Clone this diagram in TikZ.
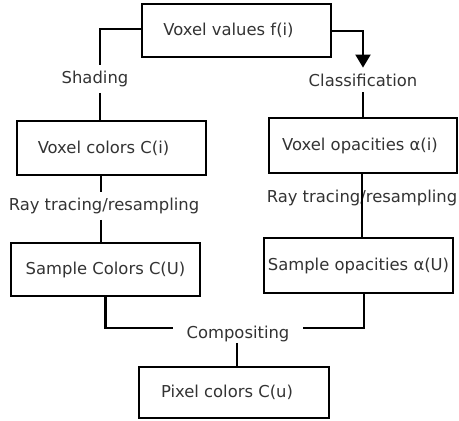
\documentclass[tikz,border=0pt]{standalone}
\usepackage{fontspec}
\setmainfont{DejaVu Sans}
\usetikzlibrary{arrows.meta}

\begin{document}
\begin{tikzpicture}[x=1pt,y=-1pt,line width=2.1pt,
  font=\fontsize{16.4}{19}\selectfont,
  box/.style={draw,text=black!80,inner sep=0pt,minimum width=189pt,minimum height=53pt},
  lbl/.style={text=black!80,inner sep=5pt}]
\useasboundingbox (0,0) rectangle (459,421);
% the six boxes
\node[box] (vval) at (236.5,30.5) {Voxel values f(i)\hspace*{16pt}};
\node[box,minimum height=54pt] (vcol) at (111.5,148) {Voxel colors C(i)\hspace*{16pt}};
\node[box,minimum width=188pt,minimum height=55pt] (vopa) at (363,145.5) {Voxel opacities α(i)\hspace*{6pt}};
\node[box] (scol) at (105.5,269.5) {Sample Colors C(U)};
\node[box,minimum height=55pt] (sopa) at (358.5,265.5) {Sample opacities α(U)};
\node[box,minimum width=190pt,minimum height=51pt] (pix) at (234,392.5) {Pixel colors C(u)\hspace*{14pt}};
% step labels
\node[lbl] (shade) at (95,79) {Shading};
\node[lbl] (class) at (363,80) {Classification};
\node[lbl] (rayl) at (104,206) {Ray tracing/resampling};
\node[lbl] (rayr) at (362,198) {Ray tracing/resampling};
\node[lbl,inner xsep=13pt,inner ysep=0pt] (comp) at (238,334) {Compositing};
% connectors
\draw ([yshift=1.5pt]vval.west) -| ([xshift=5pt]shade.north);
\draw ([xshift=5pt]shade.south) -- ([xshift=5pt]shade.south |- vcol.north);
\draw[-{Triangle[width=15pt,length=13pt]}] ([yshift=-0.5pt]vval.east) -| (class.north);
\draw (class.south) -- (class.south |- vopa.north);
\draw ([xshift=-3pt]rayl.north |- vcol.south) -- ([xshift=-3pt]rayl.north);
\draw ([xshift=-3pt]rayl.south) -- ([xshift=-3pt]rayl.south |- scol.north);
\draw (rayr |- vopa.south) -- (rayr |- sopa.north);
\draw (scol.south) |- ([yshift=6pt]comp.west);
\draw ([xshift=5.5pt]sopa.south) |- ([yshift=6pt]comp.east);
\draw ([xshift=-1pt]comp.south) -- ([xshift=-1pt]comp.south |- pix.north);
\end{tikzpicture}
\end{document}
